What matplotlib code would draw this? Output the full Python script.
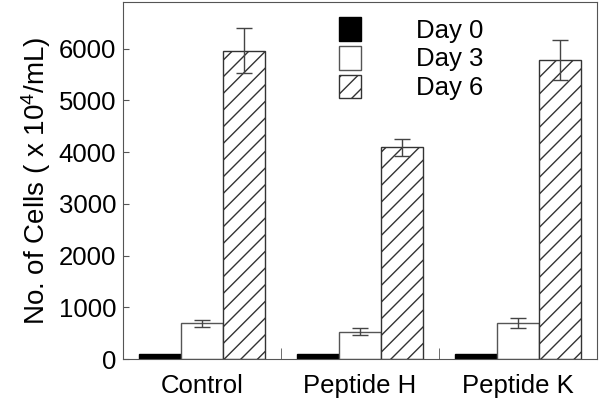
import numpy as np
import matplotlib
matplotlib.use("Agg")
import matplotlib.pyplot as plt

plt.rcParams['font.family'] = ['Liberation Sans', 'DejaVu Sans']
plt.rcParams['mathtext.fontset'] = 'custom'
plt.rcParams['mathtext.rm'] = 'Liberation Sans'
plt.rcParams['mathtext.default'] = 'regular'
plt.rcParams['hatch.linewidth'] = 1.0

groups = ["Control", "Peptide H", "Peptide K"]
series = ["Day 0", "Day 3", "Day 6"]
day0 = [100, 100, 100]
day3 = [690, 530, 690]
day6 = [5960, 4090, 5780]
err3 = [70, 65, 95]
err6 = [430, 160, 390]
yticks = [0, 1000, 2000, 3000, 4000, 5000, 6000]

fig = plt.figure(figsize=(6, 4.03), dpi=100)
ax = fig.add_axes([0.205, 0.109, 0.79, 0.886])

x = np.arange(len(groups))
w = 0.266
edge = '#555555'
ekw = dict(ecolor='#444444', elinewidth=1, capsize=6, capthick=1)

b0 = ax.bar(x - w, day0, w, color='black', edgecolor='black', linewidth=1, label=series[0])
b1 = ax.bar(x, day3, w, color='white', edgecolor=edge, linewidth=1, label=series[1],
            yerr=err3, error_kw=ekw)
b2 = ax.bar(x + w, day6, w, color='white', edgecolor='#333333', linewidth=1, hatch='//',
            label=series[2], yerr=err6, error_kw=ekw)

ax.set_xlim(-0.5, 2.5)
ax.set_ylim(0, 6900)
ax.set_yticks(yticks)
ax.set_xticks(x)
ax.set_xticklabels(groups)
ax.set_xticks([0.5, 1.5], minor=True)
ax.tick_params(axis='x', which='major', length=0, labelsize=18.5, pad=11)
ax.tick_params(axis='x', which='minor', direction='in', length=8, color=edge)
ax.tick_params(axis='y', direction='in', length=4, labelsize=18.5, color=edge, pad=5)
for s in ax.spines.values():
    s.set_color(edge)
ax.set_ylabel("No. of Cells ( x 10$^4$/mL)", fontsize=20, labelpad=4)

ax.legend(loc='upper left', bbox_to_anchor=(0.456, 0.958), frameon=False, fontsize=18.5,
          handlelength=0.86, handleheight=1.05, handletextpad=2.15, labelspacing=0.12,
          borderpad=0, borderaxespad=0)

fig.savefig("out.png", dpi=100)
